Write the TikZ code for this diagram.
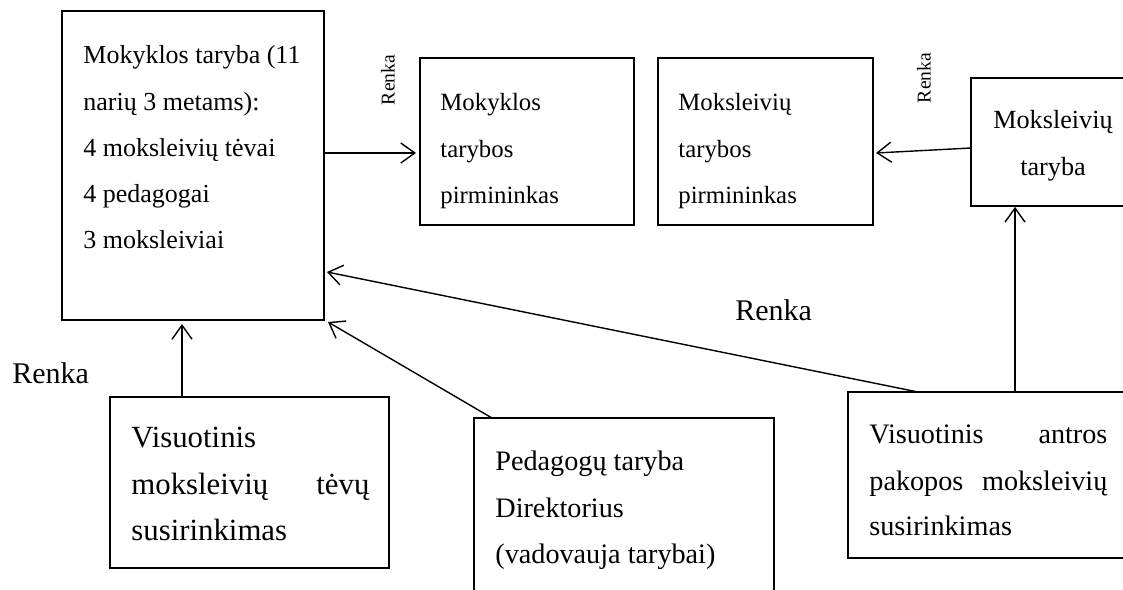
\documentclass[tikz,border=0pt]{standalone}
\usepackage{fontspec}
\setmainfont{Liberation Serif}
\usetikzlibrary{arrows.meta,fit}
\begin{document}
\begin{tikzpicture}[x=0.5pt,y=-0.5pt,
  box/.style={draw,line width=0.9pt,inner sep=0pt,rectangle},
  txt/.style={inner sep=0pt,anchor=base west},
  fA/.style={font=\fontsize{13pt}{23pt}\selectfont},
  fB/.style={font=\fontsize{12.4pt}{23pt}\selectfont},
  fD/.style={font=\fontsize{13.1pt}{23pt}\selectfont},
  fE/.style={font=\fontsize{15.4pt}{23pt}\selectfont},
  fF/.style={font=\fontsize{14.1pt}{23pt}\selectfont},
  fR/.style={font=\fontsize{15pt}{18pt}\selectfont},
  fr/.style={font=\fontsize{9.8pt}{12pt}\selectfont},
  arr/.style={line width=0.7pt,-{Straight Barb[length=7pt,width=10pt,line width=0.7pt]}},
  ln/.style={line width=0.7pt}]
\useasboundingbox (0,0) rectangle (1123,589);
\clip (0,0) rectangle (1123,589);
% boxes
\node[box,fit={(62,11) (324,320)}] (A) {};
\node[box,fit={(420,58) (634,225)}] (B) {};
\node[box,fit={(658,58) (873,225)}] (C) {};
\node[box,fit={(971,78) (1135,206)}] (D) {};
\node[box,fit={(110,397) (389,568)}] (E) {};
\node[box,fit={(848,392) (1128,558)}] (F) {};
\node[box,fit={(474,418) (774,610)}] (G) {};
% texts A
\node[txt,fA] (A1) at (83,63) {Mokyklos taryba (11};
\node[txt,fA] (A2) at (83,110) {narių 3 metams):};
\node[txt,fA] (A3) at (83,156) {4 moksleivių tėvai};
\node[txt,fA] (A4) at (83,202) {4 pedagogai};
\node[txt,fA] (A5) at (83,248) {3 moksleiviai};
% texts B
\node[txt,fB] (B1) at (440,110) {Mokyklos};
\node[txt,fB] (B2) at (440,157) {tarybos};
\node[txt,fB] (B3) at (440,203) {pirmininkas};
% texts C
\node[txt,fB] (C1) at (678,110) {Moksleivių};
\node[txt,fB] (C2) at (678,157) {tarybos};
\node[txt,fB] (C3) at (678,203) {pirmininkas};
% texts D
\node[fD,inner sep=0pt,anchor=base] (D1) at (1053,128) {Moksleivių};
\node[fD,inner sep=0pt,anchor=base] (D2) at (1053,175) {taryba};
% texts E
\node[txt,fE] (E1) at (131,447) {Visuotinis};
\node[txt,fE] (E2) at (131,494) {\makebox[119pt][s]{moksleivių\hfill tėvų}};
\node[txt,fE] (E3) at (131,540) {susirinkimas};
% texts F
\node[txt,fF] (F1) at (869,443) {\makebox[119pt][s]{Visuotinis\hfill antros}};
\node[txt,fF] (F2) at (869,490) {\makebox[119pt][s]{pakopos\hfill moksleivių}};
\node[txt,fF] (F3) at (869,535) {susirinkimas};
% texts G
\node[txt,fF] (G1) at (495,470) {Pedagogų taryba};
\node[txt,fF] (G2) at (495,517) {Direktorius};
\node[txt,fF] (G3) at (495,563) {(vadovauja tarybai)};
% labels
\node[txt,fR] (R1) at (12,383) {Renka};
\node[txt,fR] (R2) at (735,320) {Renka};
\node[fr,inner sep=0pt,rotate=90] (R3) at (388,80) {Renka};
\node[fr,inner sep=0pt,rotate=90] (R4) at (924,78) {Renka};
% connector end points
\coordinate (a1) at (324,153);
\coordinate (b1) at (416,153);
\coordinate (d1) at (971,148);
\coordinate (c1) at (876,153);
\coordinate (f1) at (1015,392);
\coordinate (f2) at (918,392);
\coordinate (aF) at (327,272);
\coordinate (e1) at (182,397);
\coordinate (aE) at (182,324);
\coordinate (g1) at (492,418);
\coordinate (aG) at (328,322);
% connectors
\draw[arr] (a1) -- (b1);
\draw[arr] (d1) -- (c1);
\draw[arr] (f1) -- (f1 |- D.south);
\draw[arr] (f2) -- (aF);
\draw[arr] (e1) -- (aE);
\draw[arr] (g1) -- (aG);
\end{tikzpicture}
\end{document}
